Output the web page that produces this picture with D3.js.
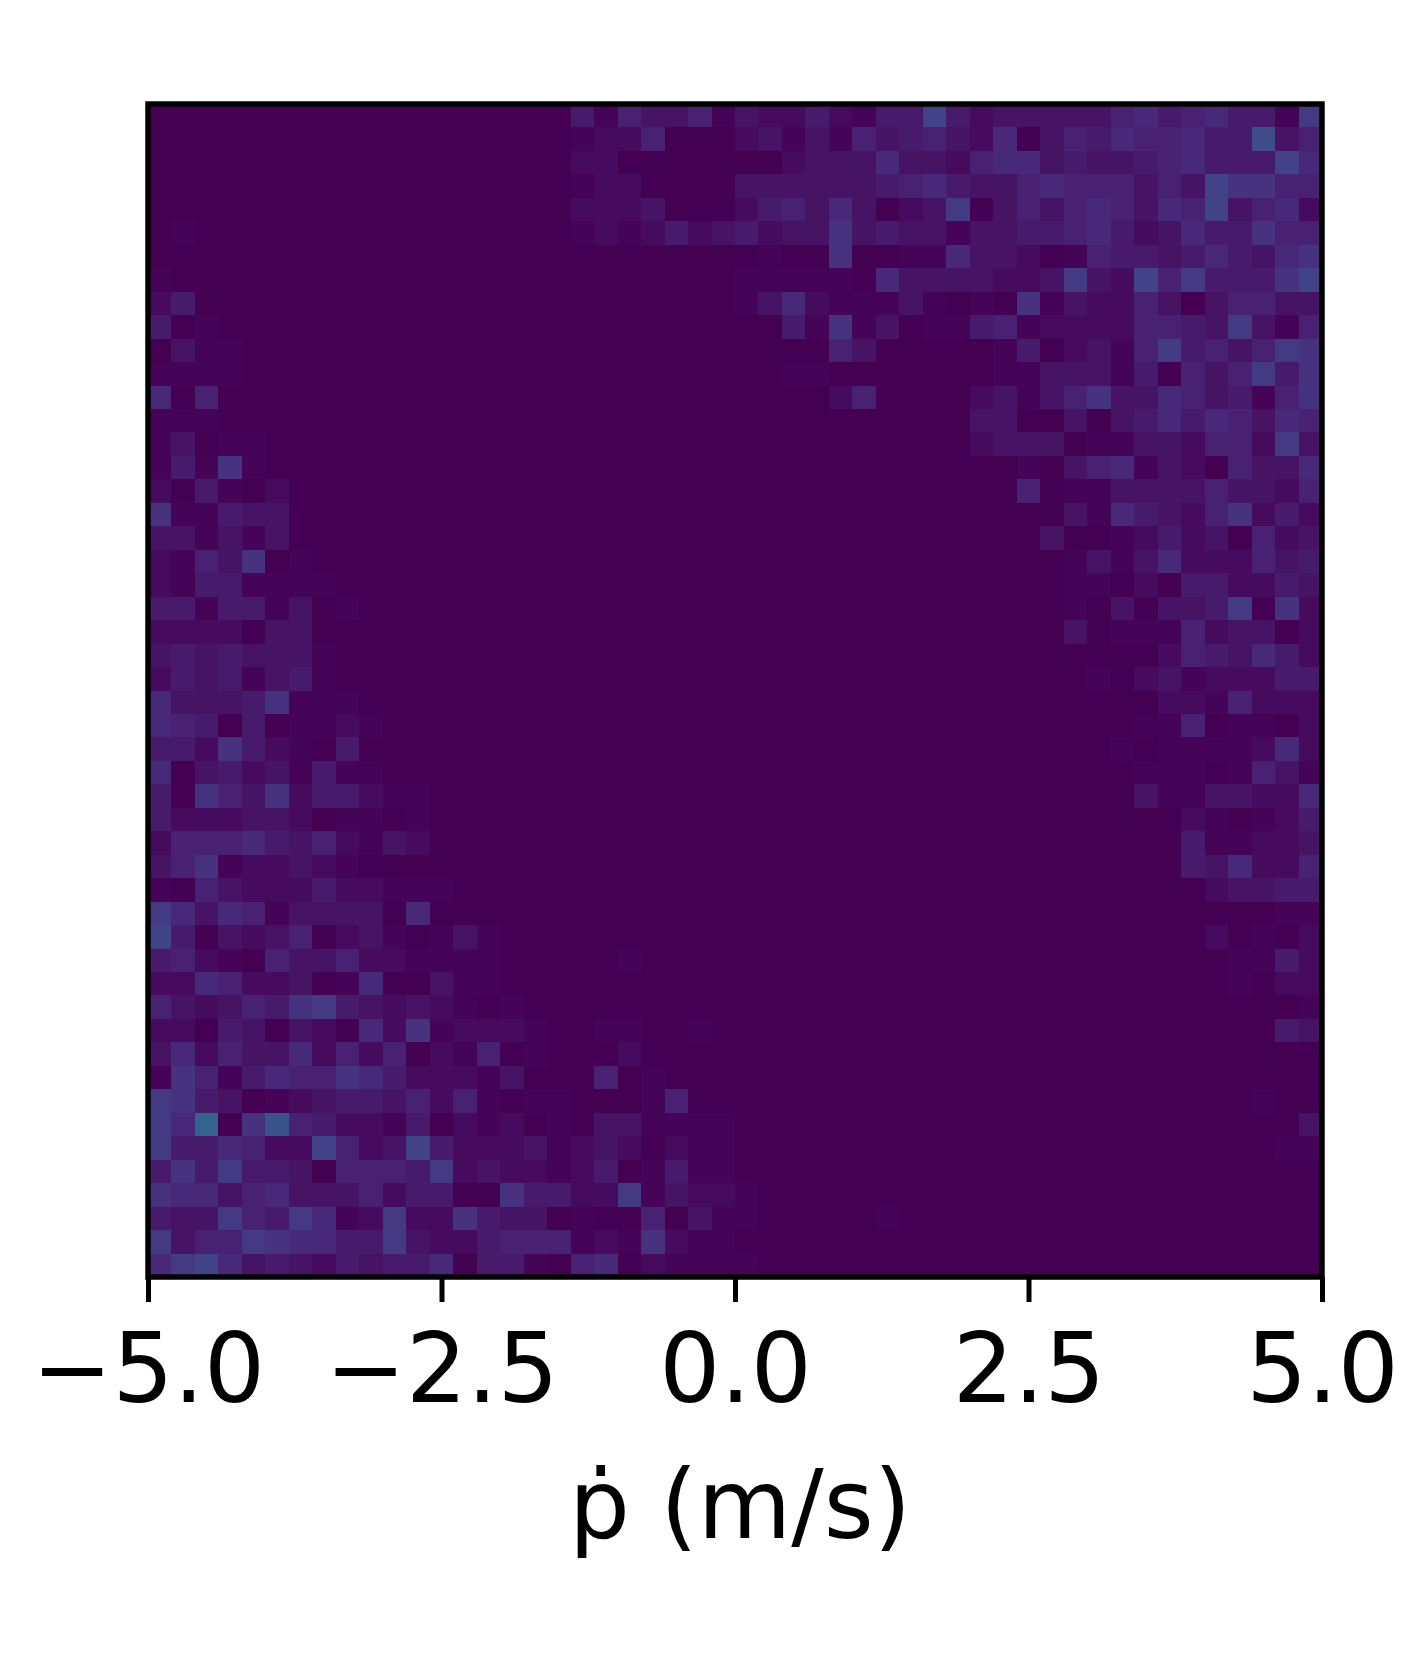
<!DOCTYPE html>
<html>
<head>
<meta charset="utf-8">
<style>html,body{margin:0;padding:0;background:#fff}svg{display:block}</style>
<script src="https://cdn.jsdelivr.net/npm/d3@7"></script>
</head>
<body>
<div id="chart"></div>
<script>
// Each row lists the cells read from the left edge (col 0 onward) ...
const leftCells = [
[],[],[],[],[],[0,1],[],[1],[2,4],[4,0,1],
[0,3,1,1],[1,1,1,1],[6,0,5],[1,1,1],[1,3,0,1,1],[1,4,1,7,1],[2,0,4,1,0,2],[7,1,1,4,3,3],[3,3,1,3,1,3],[2,1,5,3,7,0,1],
[2,1,4,4,1,1,1,1],[4,4,1,4,4,1,3,0,1],[2,2,2,2,0,3,3],[3,4,3,4,3,3,3,1],[2,4,3,4,1,3,4,1],
[6,3,3,3,4,7,1,1,1],[6,5,4,0,4,0,1,1,2,1],[4,4,2,7,4,2,1,0,4,0],[6,0,3,4,2,3,1,4,1,1],[4,0,7,5,3,7,2,4,4,2,1,1],
[4,2,2,2,3,3,2,0,1,1,0,1],[2,5,5,5,6,4,3,5,2,1,3,2],[3,5,7,1,2,2,3,2,1],[1,0,5,3,2,2,2,4,2,2,1,1,1],[8,6,3,6,5,1,3,3,3,3,0,6],
[9,4,0,3,2,3,5,0,2,3,1,0,1,3,1],[4,5,2,1,0,5,3,3,5,2,2,1,1,1,1,0,0,0,0,0,1],[2,2,6,5,2,2,3,0,1,6,0,0,3,1,1],[5,3,2,3,5,4,7,8,4,3,2,3,2,1,0,1],
[2,2,0,4,3,0,3,2,0,6,2,7,1,2,2,2,1,0,0,1,1,0,0,1],
[3,6,2,5,3,3,6,2,5,2,5,0,2,1,5,0,1,0,0,0,2],
[1,7,5,1,4,6,5,5,7,6,4,2,2,2,1,3,0,0,0,5,0,1],
[8,7,4,3,0,1,2,3,4,4,3,5,2,5,1,0,1,1,0,0,0,1,5],
[8,6,13,0,7,11,5,4,2,2,1,4,0,2,1,2,0,1,0,3,3,1,1,1,1],
[8,4,4,6,5,2,2,9,5,2,3,9,4,2,2,2,3,1,2,3,2,0,2,1,1],
[4,7,4,8,4,4,3,0,5,5,5,4,8,2,3,2,2,1,2,4,0,1,4,1,1],
[7,6,6,3,5,6,3,3,3,5,2,4,4,0,0,7,4,4,2,2,8,1,3,2,2,1],
[4,3,3,8,5,4,8,6,1,2,8,2,2,7,4,3,3,0,1,0,0,5,0,3,1,1,0,0,0,0,0,1],
[8,3,5,5,8,7,6,6,4,4,8,3,2,2,4,5,5,5,1,2,1,7,2,1,1],
[6,8,9,6,3,4,3,2,4,3,4,4,6,0,4,4,1,0,5,6,0,2,1,1,1,1]
];
// ... and the cells read back from the right edge (last entry is col 49).
const rightCells = [
[0,4,1,5,3,3,5,1,3,2,2,4,2,1,4,4,9,4,2,3,3,3,3,3,5,6,4,5,6,4,4,1,8],
[1,2,2,5,0,0,0,2,3,1,3,1,5,3,4,5,3,2,6,0,3,5,4,6,5,5,6,4,4,10,3,5],
[0,2,2,0,0,0,0,0,0,0,2,3,3,3,6,3,3,2,5,6,6,3,4,3,3,4,5,6,4,4,4,9,6],
[0,1,2,2,0,0,0,0,3,3,3,3,3,3,4,5,6,4,3,3,5,6,5,5,5,3,5,3,9,7,7,5,5],
[0,2,2,2,3,0,0,0,2,4,5,3,6,3,0,2,3,8,0,3,5,3,5,6,5,3,6,5,9,3,5,6,2],
[0,1,2,1,2,4,2,3,4,2,3,3,7,3,4,3,3,1,3,3,4,4,5,6,4,2,3,6,4,4,7,5,5],
[1,0,0,7,0,0,1,1,6,3,3,2,0,1,5,4,4,3,4,6,4,3,6,7],
[1,1,1,1,1,0,6,3,3,3,3,2,2,3,8,3,2,9,5,8,4,4,4,7,9],
[1,3,6,2,1,1,1,3,1,0,1,0,7,1,3,2,2,5,3,0,3,5,5,3,3],
[4,1,7,1,3,0,1,1,4,5,1,2,2,2,2,5,5,4,3,8,3,1,5],
[5,3,0,0,0,0,0,1,4,0,2,3,1,5,8,4,5,3,5,8,7],
[1,1,0,0,0,0,0,0,0,1,1,3,3,3,1,4,0,5,3,5,8,4,7],
[2,5,0,0,0,0,2,3,1,3,5,7,3,3,6,5,3,4,1,5,7],
[3,3,0,0,3,0,3,4,6,4,6,5,3,6,5],
[2,3,3,3,0,1,1,3,3,2,5,5,2,8,3],
[1,0,3,5,6,1,3,2,0,5,3,3,6],
[5,0,1,1,3,3,3,3,5,3,3,2,5],
[3,1,6,4,3,2,5,7,2,4,2],
[3,0,0,1,2,4,2,3,0,5,2,3],
[1,3,1,3,6,2,2,2,5,3,4],
[1,1,0,2,0,4,4,2,2,4,3],
[1,0,3,0,3,3,4,8,0,7,2],
[3,0,1,1,1,5,2,3,3,0,2],
[2,5,4,3,6,4,2],
[1,0,2,3,1,2,2,2,4,4],
[2,2,1,5,2,2,2],
[1,1,5,0,1,1,0,2],
[1,0,1,1,1,1,2,6,2],
[1,1,1,0,1,5,3,1],
[3,1,1,3,3,2,2,6],
[2,1,0,1,2,4],
[4,1,1,2,2,3],
[4,3,6,2,2,5],
[2,3,3,4,4],
[1,1],
[2,0,1,0,2],
[1,1,4,2],
[1,0,2,2],
[1],
[4,3],
[],[],
[1,0,0],
[3],
[1,1],
[],[],[],[],[]
];
const tickValues = [-5, -2.5, 0, 2.5, 5];
const xLabel = "ṗ (m/s)";
const nCols = 50;

const svg = d3.select("#chart").append("svg").attr("width", 1416).attr("height", 1666);
const L = 148, R = 1322, T = 104, B = 1277;
const x = d3.scaleLinear().domain([-5, 5]).range([L, R]);
const colBand = d3.scaleBand().domain(d3.range(nCols)).range([L, R]);
const rowBand = d3.scaleBand().domain(d3.range(leftCells.length)).range([T, B]);
const tone = d3.scalePow().exponent(1.3).domain([0, 13]).range([0, 0.32]);
const color = v => d3.interpolateViridis(tone(v));

const cells = [];
leftCells.forEach((left, r) => {
  const right = rightCells[r];
  for (let c = 0; c < nCols; c++) {
    let v = 0;
    if (c < left.length) v = left[c];
    const fromRight = c - (nCols - right.length);
    if (fromRight >= 0) v = right[fromRight];
    cells.push({r, c, v});
  }
});

svg.append("g").attr("shape-rendering", "crispEdges").selectAll("rect").data(cells).join("rect")
  .attr("x", d => colBand(d.c)).attr("y", d => rowBand(d.r))
  .attr("width", colBand.bandwidth() + 0.5).attr("height", rowBand.bandwidth() + 0.5)
  .attr("fill", d => color(d.v));

svg.append("rect").attr("x", L).attr("y", T).attr("width", R - L).attr("height", B - T)
  .attr("fill", "none").attr("stroke", "#000").attr("stroke-width", 5.5);

const axis = d3.axisBottom(x).tickValues(tickValues).tickSize(25).tickPadding(32)
  .tickFormat(d => (d < 0 ? "\u2212" : "") + d3.format(".1f")(Math.abs(d)));
const gx = svg.append("g").attr("transform", `translate(0,${B})`).call(axis);
gx.select(".domain").remove();
gx.selectAll(".tick line").attr("stroke", "#000").attr("stroke-width", 5);
gx.selectAll(".tick text").attr("fill", "#000")
  .style("font-family", "'DejaVu Sans'").style("font-size", "96px");

svg.append("text").attr("x", 740).attr("y", 1538).attr("text-anchor", "middle")
  .style("font-family", "'DejaVu Sans'").style("font-size", "96px").attr("fill", "#000").text(xLabel);
</script>
</body>
</html>
